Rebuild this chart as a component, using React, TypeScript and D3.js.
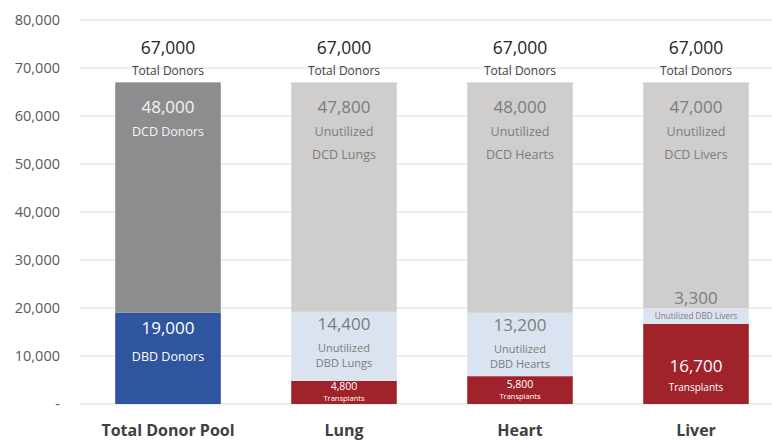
import React from "react";
import * as d3 from "d3";

const categories = ["Total Donor Pool", "Lung", "Heart", "Liver"];
const totalDonors = [67000, 67000, 67000, 67000];
const transplants = [0, 4800, 5800, 16700];
const dbdValues = [19000, 14400, 13200, 3300];
const dcdValues = [48000, 47800, 48000, 47000];
const dcdLabels = [["DCD Donors"], ["Unutilized", "DCD Lungs"], ["Unutilized", "DCD Hearts"], ["Unutilized", "DCD Livers"]];
const dbdLabels = [["DBD Donors"], ["Unutilized", "DBD Lungs"], ["Unutilized", "DBD Hearts"], ["Unutilized DBD Livers"]];
const transplantLabel = "Transplants";
const totalLabel = "Total Donors";
const yTicks = [0, 10000, 20000, 30000, 40000, 50000, 60000, 70000, 80000];

const W = 772;
const H = 441;
const FONT = "'Open Sans', 'DejaVu Sans', sans-serif";
const fmt = d3.format(",");

const C_BLUE = "#2f559f";
const C_DARKGRAY = "#8d8d8f";
const C_LIGHTGRAY = "#d0cecc";
const C_LIGHTBLUE = "#dbe3f0";
const C_RED = "#a0232b";
const C_LIGHT_TEXT = "#7c7c7c";

export default function App() {
  const x = d3.scaleBand<string>().domain(categories).range([80, 784]).paddingInner(0.4).paddingOuter(0.2);
  const y = d3.scaleLinear().domain([0, 80000]).range([404, 20]);
  const bw = x.bandwidth();

  const bars = categories.map((cat, i) => {
    const x0 = x(cat) as number;
    const cx = x0 + bw / 2;
    const isPool = i === 0;
    const t0 = 0;
    const t1 = transplants[i];
    const b1 = t1 + dbdValues[i];
    const d1 = b1 + dcdValues[i];
    const els: React.ReactNode[] = [];
    if (t1 > t0) {
      els.push(<rect key="t" x={x0} width={bw} y={y(t1)} height={y(t0) - y(t1)} fill={C_RED} />);
    }
    els.push(<rect key="b" x={x0} width={bw} y={y(b1)} height={y(t1) - y(b1)} fill={isPool ? C_BLUE : C_LIGHTBLUE} />);
    els.push(<rect key="d" x={x0} width={bw} y={y(d1)} height={y(b1) - y(d1)} fill={isPool ? C_DARKGRAY : C_LIGHTGRAY} />);

    const top = y(totalDonors[i]);
    els.push(<text key="tv" x={cx} y={top - 28} textAnchor="middle" fontSize={17.5} fill="#262626">{fmt(totalDonors[i])}</text>);
    els.push(<text key="tl" x={cx} y={top - 7} textAnchor="middle" fontSize={12} fill="#404040">{totalLabel}</text>);

    const dTop = y(d1);
    const dColor = isPool ? "#f4f4f4" : C_LIGHT_TEXT;
    els.push(<text key="dv" x={cx} y={dTop + 31} textAnchor="middle" fontSize={17} fill={dColor}>{fmt(dcdValues[i])}</text>);
    dcdLabels[i].forEach((l, j) => {
      els.push(<text key={"dl" + j} x={cx} y={dTop + 54 + j * 23} textAnchor="middle" fontSize={12.5} fill={dColor}>{l}</text>);
    });

    const bTop = y(b1);
    const bBot = y(t1);
    const bColor = isPool ? "#ffffff" : C_LIGHT_TEXT;
    if (bBot - bTop < 30) {
      els.push(<text key="bv" x={cx} y={bTop - 4} textAnchor="middle" fontSize={17} fill={C_LIGHT_TEXT}>{fmt(dbdValues[i])}</text>);
      els.push(<text key="bl" x={cx} y={(bTop + bBot) / 2 + 3} textAnchor="middle" fontSize={8.2} fill={C_LIGHT_TEXT}>{dbdLabels[i][0]}</text>);
    } else if (isPool) {
      els.push(<text key="bv" x={cx} y={bTop + 21} textAnchor="middle" fontSize={17} fill={bColor}>{fmt(dbdValues[i])}</text>);
      els.push(<text key="bl" x={cx} y={bTop + 48} textAnchor="middle" fontSize={12.5} fill={bColor}>{dbdLabels[i][0]}</text>);
    } else {
      els.push(<text key="bv" x={cx} y={bTop + 18} textAnchor="middle" fontSize={17} fill={bColor}>{fmt(dbdValues[i])}</text>);
      dbdLabels[i].forEach((l, j) => {
        els.push(<text key={"bl" + j} x={cx} y={bTop + 40 + j * 15.5} textAnchor="middle" fontSize={11} fill={bColor}>{l}</text>);
      });
    }

    if (t1 > 0) {
      const tTop = y(t1);
      const tBot = y(0);
      const mid = (tTop + tBot) / 2;
      if (tBot - tTop < 40) {
        els.push(<text key="trv" x={cx} y={mid - 2} textAnchor="middle" fontSize={10.5} fill="#ffffff">{fmt(transplants[i])}</text>);
        els.push(<text key="trl" x={cx} y={mid + 8.5} textAnchor="middle" fontSize={7.5} fill="#ffffff">{transplantLabel}</text>);
      } else {
        els.push(<text key="trv" x={cx} y={mid + 8} textAnchor="middle" fontSize={17} fill="#ffffff">{fmt(transplants[i])}</text>);
        els.push(<text key="trl" x={cx} y={mid + 27} textAnchor="middle" fontSize={10} fill="#ffffff">{transplantLabel}</text>);
      }
    }
    return <g key={cat}>{els}</g>;
  });

  return (
    <svg width={W} height={H} style={{ position: "absolute", left: 0, top: 0, background: "#fff" }} fontFamily={FONT}>
      <rect x={0} y={0} width={W} height={H} fill="#ffffff" />
      {yTicks.map((t) => (
        <g key={t}>
          <line x1={80} x2={W} y1={y(t)} y2={y(t)} stroke="#dadada" strokeWidth={1} />
          <text x={60} y={y(t) + 5} textAnchor="end" fontSize={14.5} fill="#595959">
            {t === 0 ? "-" : fmt(t)}
          </text>
        </g>
      ))}
      {bars}
      {categories.map((cat) => (
        <text key={cat} x={(x(cat) as number) + bw / 2} y={436} textAnchor="middle" fontSize={16} fontWeight="bold" fill="#404040">
          {cat}
        </text>
      ))}
    </svg>
  );
}
